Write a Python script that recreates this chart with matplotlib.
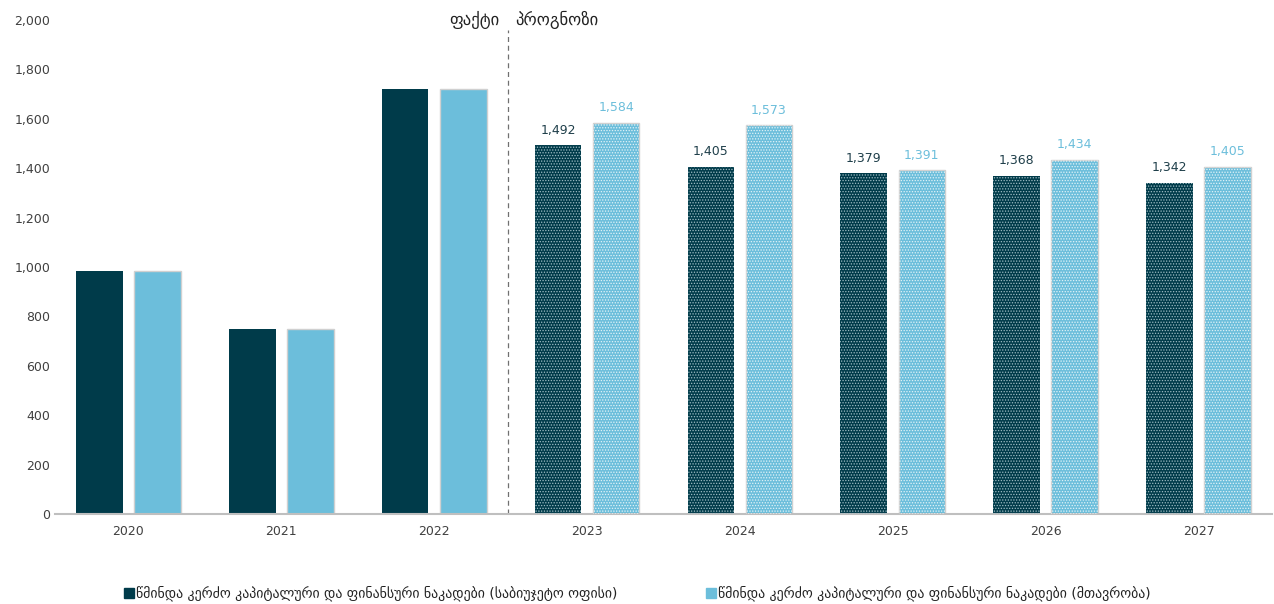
import numpy as np
import matplotlib
matplotlib.use("Agg")
import matplotlib.pyplot as plt
from matplotlib.lines import Line2D

plt.rcParams["font.family"] = ["DejaVu Sans"]
plt.rcParams["hatch.linewidth"] = 0.6

years = ["2020", "2021", "2022", "2023", "2024", "2025", "2026", "2027"]
budget_office = [985, 750, 1722, 1492, 1405, 1379, 1368, 1342]
government = [985, 750, 1722, 1584, 1573, 1391, 1434, 1405]
n_fact = 3  # 2020-2022 actual, rest forecast

label_office = "წმინდა კერძო კაპიტალური და ფინანსური ნაკადები (საბიუჯეტო ოფისი)"
label_gov = "წმინდა კერძო კაპიტალური და ფინანსური ნაკადები (მთავრობა)"
fact_txt = "ფაქტი"
forecast_txt = "პროგნოზი"

dark = "#003b4a"
light = "#6cbedb"
grey_txt = "#404040"

fig = plt.figure(figsize=(12.74, 6.04), dpi=100)
ax = fig.add_axes([55 / 1274, 90 / 604, 1217 / 1274, 494 / 604])

x = np.arange(len(years))
w = 0.305
off = 0.19

ax.bar(x - off, budget_office, w, color=dark, linewidth=0, zorder=2)
ax.bar(x + off, government, w, color=light, edgecolor="#d0d0d0", linewidth=1, zorder=2)

# dotted pattern on forecast bars
fx = x[n_fact:]
ax.bar(fx - off, budget_office[n_fact:], w, facecolor="none", edgecolor="#9fbcc4",
       hatch="......", linewidth=0, zorder=3)
ax.bar(fx + off, government[n_fact:], w, facecolor="none", edgecolor="#e2f3f8",
       hatch="......", linewidth=0, zorder=3)

for i in range(n_fact, len(years)):
    ax.text(x[i] - off, budget_office[i] + 35, f"{budget_office[i]:,}", ha="center",
            va="bottom", fontsize=9, color="#1f3f4a")
    ax.text(x[i] + off, government[i] + 35, f"{government[i]:,}", ha="center",
            va="bottom", fontsize=9, color=light)

# fact / forecast divider
xdiv = (x[n_fact - 1] + x[n_fact]) / 2 - 0.02
ax.plot([xdiv, xdiv], [0, 1960], color="#707070", linestyle=(0, (4, 3)), linewidth=0.9, zorder=1)
ax.text(xdiv - 0.05, 2000, fact_txt, ha="right", va="center", fontsize=12, color="#222222")
ax.text(xdiv + 0.05, 2000, forecast_txt, ha="left", va="center", fontsize=12, color="#222222")

ax.set_xlim(-0.48, 7.48)
ax.set_ylim(0, 2000)
ax.set_yticks(np.arange(0, 2001, 200))
ax.yaxis.set_major_formatter(matplotlib.ticker.FuncFormatter(lambda v, p: f"{int(v):,}"))
ax.set_xticks(x)
ax.set_xticklabels(years)
ax.tick_params(axis="both", length=0, labelsize=9, colors=grey_txt)
ax.tick_params(axis="x", pad=8)
for s in ["top", "right", "left"]:
    ax.spines[s].set_visible(False)
ax.spines["bottom"].set_color("#bfbfbf")
ax.spines["bottom"].set_linewidth(1.5)

handles = [
    Line2D([], [], marker="s", linestyle="none", markersize=7, color=dark),
    Line2D([], [], marker="s", linestyle="none", markersize=7, color=light),
]
fig.legend(handles, [label_office, label_gov], loc="center", bbox_to_anchor=(0.5, 0.017),
           ncol=2, frameon=False, fontsize=10, handletextpad=0.1, columnspacing=6.3,
           handlelength=0.8, labelcolor="#222222")

fig.savefig("out.png", dpi=100)
